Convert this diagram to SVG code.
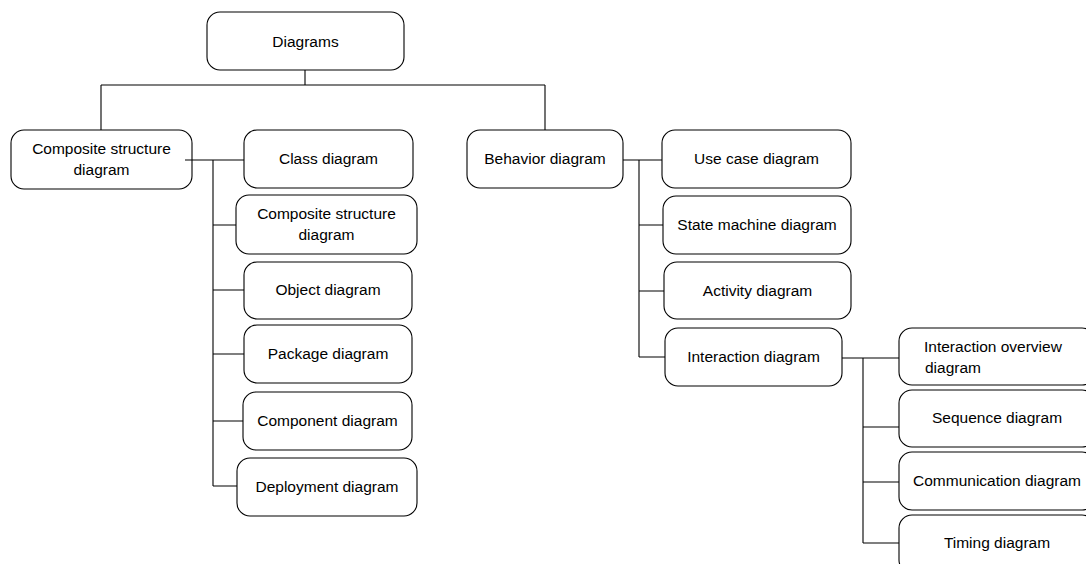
<svg xmlns="http://www.w3.org/2000/svg" width="1086" height="564" viewBox="0 0 1086 564">
<style>
.box{fill:#fff;stroke:#000;stroke-width:1.1}
.lbl{font-family:"Liberation Sans",Arial,sans-serif;font-size:15.5px;fill:#000;text-anchor:middle}
.ln{fill:none;stroke:#000;stroke-width:1.1}
</style>
<rect width="1086" height="564" fill="#fff"/>
<g id="diagrams"><rect class="box" x="207" y="12" width="197" height="58" rx="13"/><text class="lbl" x="305.5" y="47">Diagrams</text></g>
<g id="structure"><rect class="box" x="11" y="130" width="181" height="59" rx="13"/><text class="lbl" x="101.5" y="154">Composite structure</text><text class="lbl" x="101.5" y="175">diagram</text></g>
<g id="class"><rect class="box" x="244" y="130" width="169" height="58" rx="13"/><text class="lbl" x="328.5" y="164">Class diagram</text></g>
<g id="composite"><rect class="box" x="236" y="195" width="181" height="59" rx="13"/><text class="lbl" x="326.5" y="219">Composite structure</text><text class="lbl" x="326.5" y="240">diagram</text></g>
<g id="object"><rect class="box" x="244" y="262" width="168" height="57" rx="13"/><text class="lbl" x="328" y="295">Object diagram</text></g>
<g id="package"><rect class="box" x="244" y="325" width="168" height="58" rx="13"/><text class="lbl" x="328" y="359">Package diagram</text></g>
<g id="component"><rect class="box" x="243" y="392" width="169" height="58" rx="13"/><text class="lbl" x="327.5" y="426">Component diagram</text></g>
<g id="deployment"><rect class="box" x="237" y="458" width="180" height="58" rx="13"/><text class="lbl" x="327" y="492">Deployment diagram</text></g>
<g id="behavior"><rect class="box" x="467" y="130" width="156" height="58" rx="13"/><text class="lbl" x="545" y="164">Behavior diagram</text></g>
<g id="usecase"><rect class="box" x="662" y="130" width="189" height="58" rx="13"/><text class="lbl" x="756.5" y="164">Use case diagram</text></g>
<g id="statemachine"><rect class="box" x="663" y="196" width="188" height="58" rx="13"/><text class="lbl" x="757" y="230">State machine diagram</text></g>
<g id="activity"><rect class="box" x="664" y="262" width="187" height="57" rx="13"/><text class="lbl" x="757.5" y="296">Activity diagram</text></g>
<g id="interaction"><rect class="box" x="665" y="328" width="177" height="58" rx="13"/><text class="lbl" x="753.5" y="362">Interaction diagram</text></g>
<g id="overview"><rect class="box" x="899" y="328" width="196" height="57" rx="13"/><text class="lbl" x="924" y="352" style="text-anchor:start">Interaction overview</text><text class="lbl" x="925" y="373" style="text-anchor:start">diagram</text></g>
<g id="sequence"><rect class="box" x="899" y="390" width="196" height="57" rx="13"/><text class="lbl" x="997" y="423">Sequence diagram</text></g>
<g id="communication"><rect class="box" x="899" y="452" width="196" height="58" rx="13"/><text class="lbl" x="997" y="486">Communication diagram</text></g>
<g id="timing"><rect class="box" x="899" y="515" width="196" height="58" rx="13"/><text class="lbl" x="997" y="548">Timing diagram</text></g>
<g id="connectors" class="ln">
<path d="M305 70V85M101 85H545M101 85V130M545 85V130"/>
<path d="M185 160H244M213 160V486M213 225H236M213 290H244M213 354H244M213 421H243M213 486H237"/>
<path d="M623 160H662M639 160V357M639 225H663M639 291H664M639 357H665"/>
<path d="M842 358H899M863 358V543M863 427H899M863 482H899M863 543H899"/>
</g>
</svg>
